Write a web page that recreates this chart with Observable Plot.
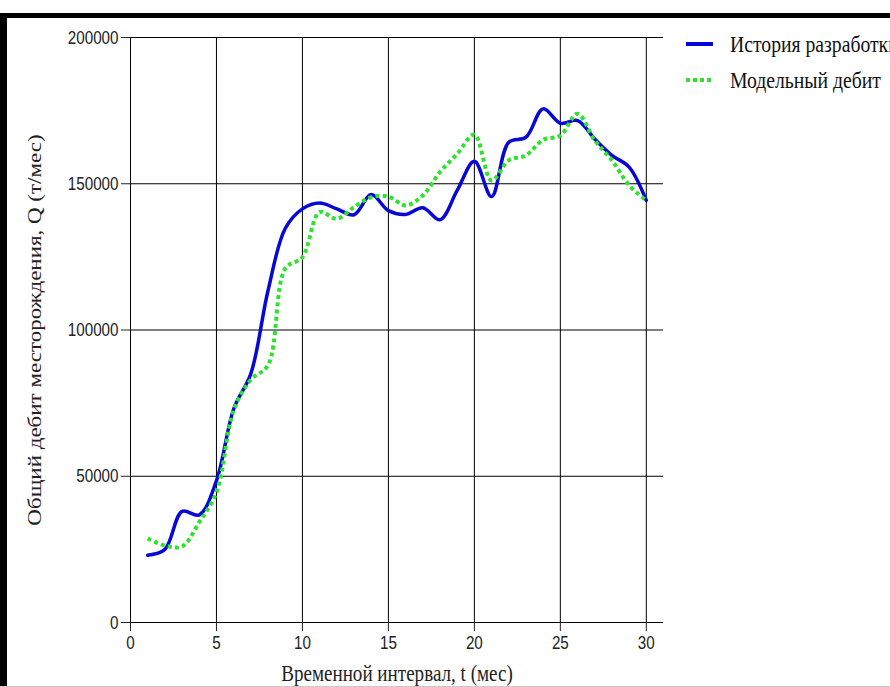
<!DOCTYPE html>
<html lang="ru">
<head>
<meta charset="utf-8">
<script src="https://cdn.jsdelivr.net/npm/d3@7"></script>
<script src="https://cdn.jsdelivr.net/npm/@observablehq/plot@0.6"></script>
<style>
  html, body { margin: 0; padding: 0; background: #fff; }
  #page { position: relative; width: 890px; height: 687px; overflow: hidden; background: #fff; }
  #chart { position: absolute; left: 0; top: 0; }
  .bar-top { position: absolute; left: 0; top: 13px; width: 890px; height: 5px; background: #000; }
  .bar-left { position: absolute; left: 0; top: 13px; width: 7px; height: 674px; background: #000; }
  .bar-bottom { position: absolute; left: 0; top: 686px; width: 890px; height: 1px; background: #c8c8c8; }
  #legend { position: absolute; left: 686px; top: 26px; font-family: "Liberation Serif", serif; font-size: 24px; color: #111; white-space: nowrap; }
  #legend .item { display: flex; align-items: center; height: 36px; }
  #legend svg { width: 27px; height: 10px; margin-right: 17px; flex: none; }
  #legend span { display: inline-block; transform: scaleX(0.82); transform-origin: left center; }
</style>
</head>
<body>
<div id="page">
  <div id="chart"></div>
  <div id="legend"></div>
  <div class="bar-top"></div>
  <div class="bar-left"></div>
  <div class="bar-bottom"></div>
</div>
<script>
// Month index of each observation
const months = [1, 2, 3, 4, 5, 6, 7, 8, 9, 10, 11, 12, 13, 14, 15, 16, 17, 18, 19, 20, 21, 22, 23, 24, 25, 26, 27, 28, 29, 30];

// Field production history, t/month
const history = [23000, 25000, 38000, 36800, 48500, 73000, 85100, 113500, 134700, 141400,
                 143400, 141400, 139400, 146300, 140800, 139500, 141800, 137700, 147700, 157700,
                 145600, 164200, 165900, 175600, 170700, 171600, 165300, 159700, 155700, 144300];

// Model production rate, t/month
const modeled = [28700, 26300, 26000, 34300, 44500, 72500, 83000, 88000, 121000, 124900,
                 140300, 138000, 142000, 145400, 145600, 142600, 146000, 154000, 160200, 166800,
                 151100, 158000, 159700, 165000, 166500, 173900, 164800, 158000, 149500, 144300];

// Series names and axis ticks
const seriesNames = ["История разработки", "Модельный дебит"];
const seriesColors = ["#0808d6", "#2ee22e"];
const xTicks = [0, 5, 10, 15, 20, 25, 30];
const yTicks = [0, 50000, 100000, 150000, 200000];

const historyRows = months.map((t, i) => ({t, q: history[i]}));
const modelRows = months.map((t, i) => ({t, q: modeled[i]}));

const chart = Plot.plot({
  width: 890,
  height: 687,
  marginLeft: 130,
  marginRight: 227,
  marginTop: 37,
  marginBottom: 65,
  style: {fontFamily: "Liberation Sans, Arial, sans-serif", fontSize: "19px", color: "#222", background: "transparent"},
  x: {
    domain: [0, 31],
    ticks: xTicks,
    tickSize: 9,
    tickPadding: 4,
    tickFormat: d => String(d),
    label: "Временной интервал, t (мес)",
    labelAnchor: "center",
    labelOffset: 58,
    labelArrow: "none"
  },
  y: {
    domain: [0, 200000],
    ticks: yTicks,
    tickSize: 9,
    tickPadding: 3,
    tickFormat: d => String(d),
    label: "Общий дебит месторождения, Q (т/мес)",
    labelAnchor: "center",
    labelOffset: 105,
    labelArrow: "none"
  },
  marks: [
    Plot.ruleX(xTicks.filter(d => d > 0), {stroke: "#000", strokeWidth: 1}),
    Plot.ruleY(yTicks.filter(d => d > 0), {stroke: "#000", strokeWidth: 1}),
    Plot.ruleX([0], {stroke: "#000", strokeWidth: 1}),
    Plot.ruleY([0], {stroke: "#000", strokeWidth: 1}),
    Plot.line(historyRows, {x: "t", y: "q", stroke: seriesColors[0], strokeWidth: 3.5, curve: "catmull-rom"}),
    Plot.line(modelRows, {x: "t", y: "q", stroke: seriesColors[1], strokeWidth: 4, strokeDasharray: "4,3.2", strokeLinecap: "butt", curve: "catmull-rom"})
  ]
});

// Axis titles in a serif face
chart.querySelectorAll("text").forEach(t => {
  const group = t.closest("g[aria-label]");
  const role = group ? group.getAttribute("aria-label") : "";
  if (role === "y-axis label" || role === "x-axis label") {
    t.style.fontFamily = "Liberation Serif, Times New Roman, serif";
    t.style.fontSize = "23px";
  }
});

document.getElementById("chart").appendChild(chart);

// Narrow lettering: wrap each text in a group that squeezes it horizontally
// around its anchor point (right end, centre or left end).
const NS = "http://www.w3.org/2000/svg";
Array.from(chart.querySelectorAll("text")).forEach(t => {
  const group = t.closest("g[aria-label]");
  const role = group ? group.getAttribute("aria-label") : "";
  const sx = role.endsWith("axis label") ? 0.83 : 0.8;
  const r = t.getBoundingClientRect();
  const anchor = getComputedStyle(t).textAnchor;
  const px = anchor === "end" ? r.right : anchor === "start" ? r.left : (r.left + r.right) / 2;
  const py = (r.top + r.bottom) / 2;
  const parent = t.parentNode;
  const pt = chart.createSVGPoint();
  pt.x = px; pt.y = py;
  const q = pt.matrixTransform(parent.getScreenCTM().inverse());
  const g = document.createElementNS(NS, "g");
  g.setAttribute("transform", `translate(${q.x},${q.y}) scale(${sx},1) translate(${-q.x},${-q.y})`);
  parent.insertBefore(g, t);
  g.appendChild(t);
});

// Legend: line swatch + name
const legend = document.getElementById("legend");
seriesNames.forEach((name, i) => {
  const item = document.createElement("div");
  item.className = "item";
  const dash = i === 1 ? 'stroke-dasharray="4,3"' : "";
  item.innerHTML = `<svg viewBox="0 0 27 10"><line x1="0" y1="5" x2="27" y2="5" stroke="${seriesColors[i]}" stroke-width="4" ${dash}/></svg><span>${name}</span>`;
  legend.appendChild(item);
});
</script>
</body>
</html>
